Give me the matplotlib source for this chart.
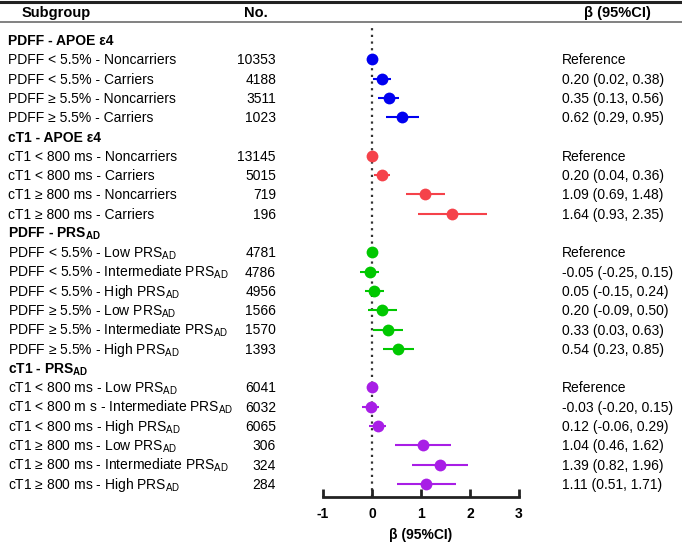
import matplotlib
matplotlib.use("Agg")
import matplotlib.pyplot as plt
from matplotlib.lines import Line2D
from matplotlib.transforms import blended_transform_factory, offset_copy

plt.rcParams['font.family'] = ['Liberation Sans', 'DejaVu Sans']
plt.rcParams['mathtext.fontset'] = 'custom'
plt.rcParams['mathtext.rm'] = 'Liberation Sans'
plt.rcParams['mathtext.bf'] = 'Liberation Sans:bold'

SUB = r"PRS$_{\mathrm{AD}}$"
SUBB = r"PRS$_{\mathbf{AD}}$"

# ---- data ----
group_titles = ["PDFF - APOE ε4", "cT1 - APOE ε4", "PDFF - " + SUBB, "cT1 - " + SUBB]
group_colors = ["#0000F0", "#F5424A", "#00C800", "#A81EE6"]

labels_1 = ["PDFF < 5.5% - Noncarriers", "PDFF < 5.5% - Carriers",
            "PDFF ≥ 5.5% - Noncarriers", "PDFF ≥ 5.5% - Carriers"]
n_1 = [10353, 4188, 3511, 1023]
beta_1 = [0.0, 0.20, 0.35, 0.62]
lo_1 = [None, 0.02, 0.13, 0.29]
hi_1 = [None, 0.38, 0.56, 0.95]

labels_2 = ["cT1 < 800 ms - Noncarriers", "cT1 < 800 ms - Carriers",
            "cT1 ≥ 800 ms - Noncarriers", "cT1 ≥ 800 ms - Carriers"]
n_2 = [13145, 5015, 719, 196]
beta_2 = [0.0, 0.20, 1.09, 1.64]
lo_2 = [None, 0.04, 0.69, 0.93]
hi_2 = [None, 0.36, 1.48, 2.35]

labels_3 = ["PDFF < 5.5% - Low " + SUB, "PDFF < 5.5% - Intermediate " + SUB,
            "PDFF < 5.5% - High " + SUB, "PDFF ≥ 5.5% - Low " + SUB,
            "PDFF ≥ 5.5% - Intermediate " + SUB, "PDFF ≥ 5.5% - High " + SUB]
n_3 = [4781, 4786, 4956, 1566, 1570, 1393]
beta_3 = [0.0, -0.05, 0.05, 0.20, 0.33, 0.54]
lo_3 = [None, -0.25, -0.15, -0.09, 0.03, 0.23]
hi_3 = [None, 0.15, 0.24, 0.50, 0.63, 0.85]

labels_4 = ["cT1 < 800 ms - Low " + SUB, "cT1 < 800 m s - Intermediate " + SUB,
            "cT1 < 800 ms - High " + SUB, "cT1 ≥ 800 ms - Low " + SUB,
            "cT1 ≥ 800 ms - Intermediate " + SUB, "cT1 ≥ 800 ms - High " + SUB]
n_4 = [6041, 6032, 6065, 306, 324, 284]
beta_4 = [0.0, -0.03, 0.12, 1.04, 1.39, 1.11]
lo_4 = [None, -0.20, -0.06, 0.46, 0.82, 0.51]
hi_4 = [None, 0.15, 0.29, 1.62, 1.96, 1.71]

x_ticks = [-1, 0, 1, 2, 3]

groups = [(labels_1, n_1, beta_1, lo_1, hi_1),
          (labels_2, n_2, beta_2, lo_2, hi_2),
          (labels_3, n_3, beta_3, lo_3, hi_3),
          (labels_4, n_4, beta_4, lo_4, hi_4)]

# ---- figure ----
W, H = 682, 544
fig = plt.figure(figsize=(W / 100, H / 100), dpi=100)

def fx(px):
    return px / W

def fy(py):
    return 1 - py / H

row0_px, row_step = 40.0, 19.3
ax_left_px, ax_right_px = 323, 519
ax_top_px, ax_bot_px = 24, 497
ax = fig.add_axes([fx(ax_left_px), fy(ax_bot_px), fx(ax_right_px - ax_left_px),
                   (ax_bot_px - ax_top_px) / H])
ax.set_xlim(-1, 3)
ax.set_ylim((ax_bot_px - row0_px) / row_step, (ax_top_px - row0_px) / row_step)
ax.patch.set_alpha(0)
for s in ['top', 'right', 'left']:
    ax.spines[s].set_visible(False)
ax.spines['bottom'].set_linewidth(2)
ax.spines['bottom'].set_color('#222222')
ax.set_yticks([])
ax.set_xticks(x_ticks)
ax.set_xticklabels([str(t) for t in x_ticks], fontweight='bold', fontsize=10)
ax.tick_params(axis='x', direction='in', length=6, width=2, color='#222222', pad=7)
ax.set_xlabel("β (95%CI)", fontweight='bold', fontsize=10, labelpad=5)
ax.axvline(0, color='#333333', linestyle=(0, (1, 2.0)), linewidth=1.6, zorder=1)

fs = 10
tr_lab = offset_copy(blended_transform_factory(fig.transFigure, ax.transData),
                     fig=fig, y=-3.6, units='points')

row = 0
for gi, (labs, ns, b, lo, hi) in enumerate(groups):
    col = group_colors[gi]
    fig.text(fx(8), row, group_titles[gi], transform=tr_lab, fontsize=fs,
             fontweight='bold', va='baseline', ha='left')
    row += 1
    for lab, n, bb, l, h in zip(labs, ns, b, lo, hi):
        fig.text(fx(8), row, lab, transform=tr_lab, fontsize=fs, va='baseline', ha='left')
        fig.text(fx(276), row, str(n), transform=tr_lab, fontsize=fs, va='baseline', ha='right')
        if l is None:
            txt = "Reference"
        else:
            txt = f"{bb:.2f} ({l:.2f}, {h:.2f})"
            ax.plot([l, h], [row, row], color=col, linewidth=1.5, zorder=2, solid_capstyle='butt')
        fig.text(fx(562), row, txt, transform=tr_lab, fontsize=fs, va='baseline', ha='left')
        ax.plot([bb], [row], 'o', color=col, markersize=8.5, zorder=3, markeredgewidth=0)
        row += 1

# header
fig.text(fx(22), fy(13), "Subgroup", fontsize=10.5, fontweight='bold', va='center', ha='left')
fig.text(fx(256), fy(13), "No.", fontsize=10.5, fontweight='bold', va='center', ha='center')
fig.text(fx(617), fy(13), "β (95%CI)", fontsize=10.5, fontweight='bold', va='center', ha='center')
fig.add_artist(Line2D([0, 1], [fy(1.5), fy(1.5)], transform=fig.transFigure,
                      color='#222222', linewidth=2.2))
fig.add_artist(Line2D([0, 1], [fy(22), fy(22)], transform=fig.transFigure,
                      color='#777777', linewidth=1.3))

fig.savefig("out.png", dpi=100)
